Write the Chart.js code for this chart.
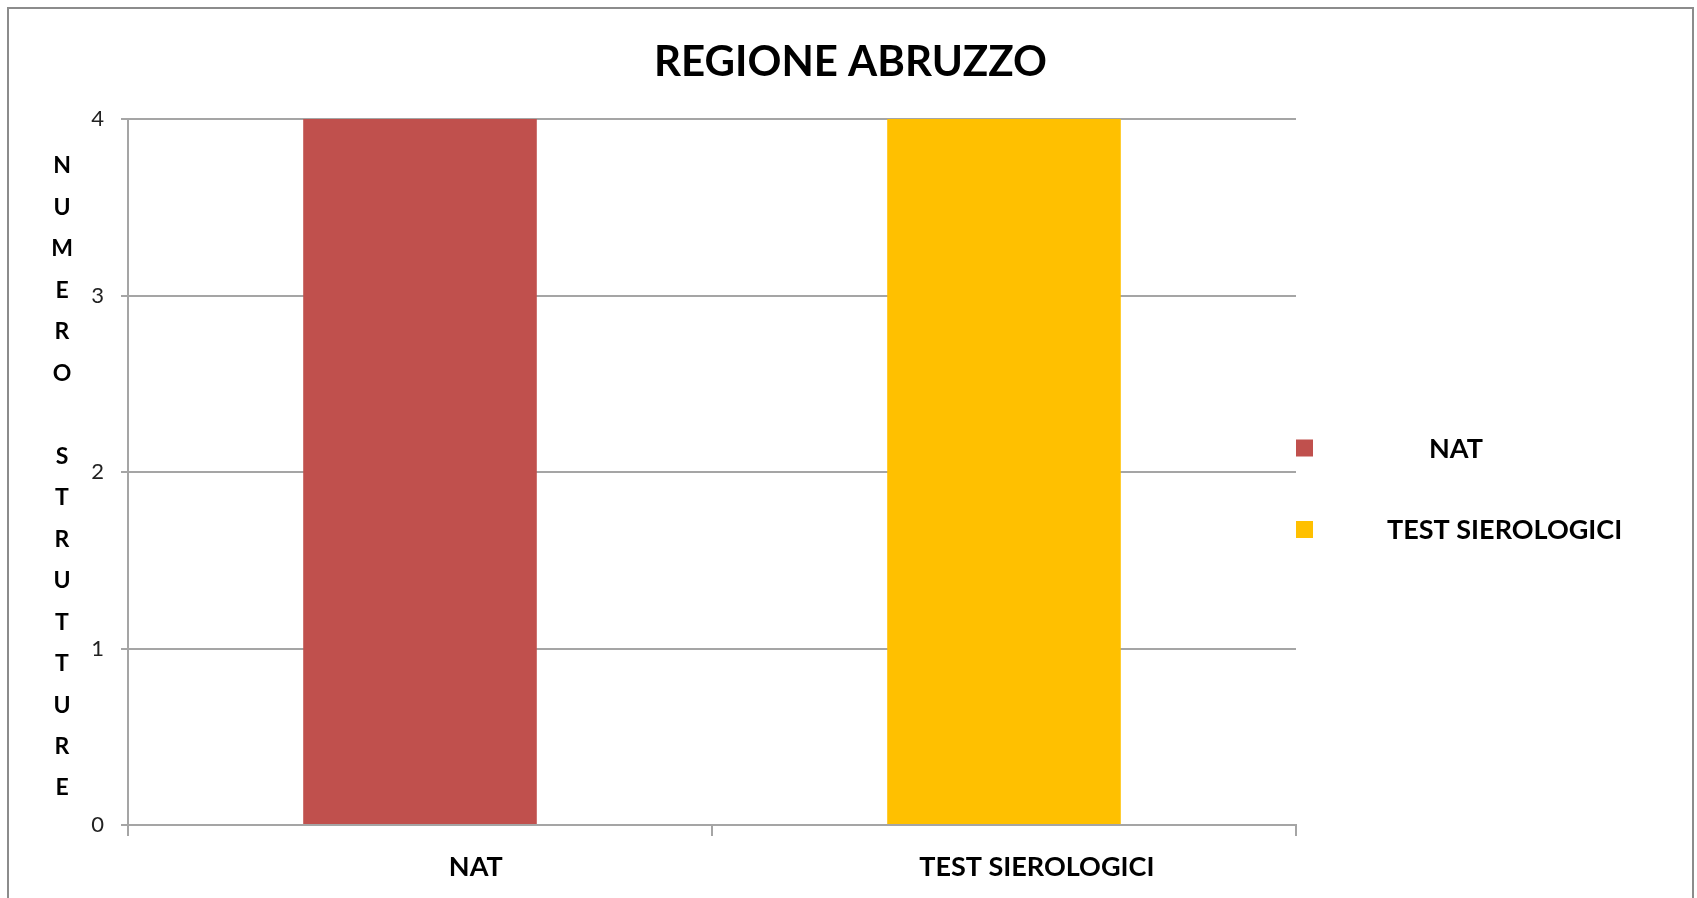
<!DOCTYPE html>
<html>
<head>
<meta charset="utf-8">
<script src="https://cdn.jsdelivr.net/npm/chart.js@4.4.0/dist/chart.umd.min.js"></script>
<style>
  html, body { margin: 0; padding: 0; background: #fff; overflow: hidden; }
  canvas { position: absolute; left: 0; top: 0; }
  #frame { position: absolute; left: 7px; top: 7px; width: 1683px; height: 920px; border: 2px solid #8c8c8c; }
</style>
</head>
<body>
<canvas id="chart" width="1697" height="898"></canvas>
<div id="frame"></div>
<script>
const chartTitle = "REGIONE ABRUZZO";
const yAxisTitle = "NUMERO STRUTTURE";
const categories = ["NAT", "TEST SIEROLOGICI"];
const values = [4, 4];
const barColors = ["#C0504D", "#FFC000"];
const yTicks = [0, 1, 2, 3, 4];

// the original labels carry leading blanks, which shift them off centre
const labelFont = "bold 27px Lato";
const labelIndentPx = [110, 68];
const measure = document.createElement("canvas").getContext("2d");
measure.font = labelFont;
const spaceW = measure.measureText(" ").width;
const pads = labelIndentPx.map(px => " ".repeat(Math.round(px / spaceW)));

const gridGray = "#a5a5a5";

const decorations = {
    id: "decorations",
    afterDraw(chart) {
        const ctx = chart.ctx;
        ctx.save();
        ctx.fillStyle = "#000";

        // title
        ctx.font = "bold 42px Lato";
        ctx.textAlign = "center";
        ctx.textBaseline = "alphabetic";
        ctx.fillText(chartTitle, chart.width / 2 + 2, 76);

        // stacked y axis title
        ctx.font = "bold 23px Lato";
        ctx.textBaseline = "middle";
        yAxisTitle.split("").forEach((ch, i) => {
            ctx.fillText(ch, 62, 166 + i * 41.47);
        });

        // legend
        const right = chart.chartArea.right;
        ctx.font = labelFont;
        ctx.textAlign = "left";
        categories.forEach((name, i) => {
            const cy = 448 + i * 81.5;
            ctx.fillStyle = barColors[i];
            ctx.fillRect(right, cy - 8.5, 17, 17);
            ctx.fillStyle = "#000";
            ctx.fillText(name, right + 17 + 6 + labelIndentPx[i], cy + 1);
        });
        ctx.restore();
    }
};

new Chart(document.getElementById("chart"), {
    type: "bar",
    data: {
        labels: categories,
        datasets: [{
            data: values,
            backgroundColor: barColors,
            barPercentage: 0.4,
            categoryPercentage: 1.0
        }]
    },
    options: {
        responsive: false,
        animation: false,
        devicePixelRatio: 1,
        layout: { padding: { left: 0, top: 119, right: 401, bottom: 0 } },
        plugins: {
            legend: { display: false },
            tooltip: { enabled: false },
            title: { display: false }
        },
        scales: {
            x: {
                afterFit: s => { s.height = 73; },
                grid: {
                    offset: true,
                    drawOnChartArea: false,
                    drawTicks: true,
                    tickLength: 11,
                    color: gridGray,
                    lineWidth: 2
                },
                border: { color: gridGray, width: 2 },
                ticks: {
                    padding: 15,
                    color: "#000",
                    font: { family: "Lato", size: 27, weight: "bold" },
                    maxRotation: 0,
                    callback: (v, i) => pads[i] + categories[i]
                }
            },
            y: {
                min: 0,
                max: 4,
                afterFit: s => { s.width = 128; },
                afterBuildTicks: s => { s.ticks = yTicks.map(v => ({ value: v })); },
                grid: { tickLength: 7, color: gridGray, lineWidth: 2 },
                border: { color: gridGray, width: 2 },
                ticks: {
                    padding: 17,
                    color: "#222",
                    font: { family: "Lato", size: 22 }
                }
            }
        }
    },
    plugins: [decorations]
});
</script>
</body>
</html>
